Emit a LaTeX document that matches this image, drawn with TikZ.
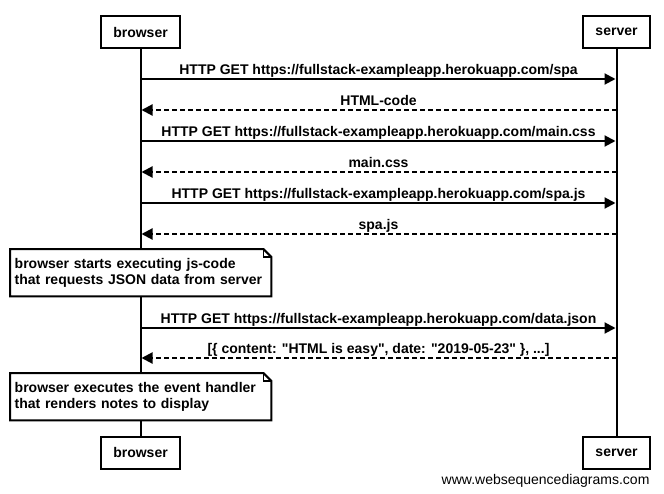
\documentclass[tikz,border=0pt]{standalone}
\usepackage{fontspec}
\setmainfont{Liberation Sans}
\usetikzlibrary{arrows.meta,positioning,calc}

% outline of a note with a folded top right corner
\newcommand{\foldnote}[1]{%
  \draw[notebox] (#1.north west) -- ([xshift=-8pt]#1.north east)
    -- ([yshift=-8pt]#1.north east) -- (#1.south east)
    -- (#1.south west) -- cycle;
  \draw[line width=1.2pt] ([xshift=-8pt]#1.north east) |- ([yshift=-8pt]#1.north east);
}

\begin{document}
\begin{tikzpicture}[
  x=1pt, y=-1pt,
  font=\fontsize{14}{15.5}\selectfont\bfseries,
  actor/.style={draw, line width=2pt, fill=white, minimum height=32pt, inner sep=0pt},
  life/.style={line width=2pt},
  call/.style={-{Triangle[length=11pt,width=11pt]}, line width=2pt, shorten >=1pt},
  reply/.style={call, dash pattern=on 5pt off 3pt},
  lbl/.style={above, inner sep=0.5pt, text depth=3pt},
  note/.style={fill=white, minimum height=47pt, text width=252pt, align=left,
               inner xsep=4.5pt, inner ysep=0pt, anchor=north west},
  notebox/.style={line width=2pt}
]
\useasboundingbox (0,0) rectangle (664,493);

\node[actor, minimum width=79pt] (brtop) at (140.5,32) {browser};
\node[actor, minimum width=67pt] (svtop) at (616.5,32) {server};
\node[actor, minimum width=79pt] (brbot) at (140.5,452.5) {browser};
\node[actor, minimum width=67pt] (svbot) at (616.5,452.5) {server};

\draw[life] (brtop) -- (brbot);
\draw[life] (svtop) -- (svbot);

\foreach \i/\y in {1/79,2/110,3/141,4/172,5/203,6/234,7/328,8/358}{
  \coordinate (b\i) at (brtop.center |- 0,\y);
  \coordinate (s\i) at (svtop.center |- 0,\y);
}

\draw[call] (b1) -- node[lbl] {HTTP GET https://fullstack-exampleapp.herokuapp.com/spa} (s1);
\draw[reply] (s2) -- node[lbl] {HTML-code} (b2);
\draw[call] (b3) -- node[lbl] {HTTP GET https://fullstack-exampleapp.herokuapp.com/main.css} (s3);
\draw[reply] (s4) -- node[lbl] {main.css} (b4);
\draw[call] (b5) -- node[lbl] {HTTP GET https://fullstack-exampleapp.herokuapp.com/spa.js} (s5);
\draw[reply] (s6) -- node[lbl] {spa.js} (b6);

\node[note] (note1) at (10,249) {browser starts executing js-code\\that requests JSON data from server};
\foldnote{note1}

\draw[call] (b7) -- node[lbl] {HTTP GET https://fullstack-exampleapp.herokuapp.com/data.json} (s7);
\draw[reply] (s8) -- node[lbl] {[\{ content: \textquotedbl HTML is easy\textquotedbl, date: \textquotedbl 2019-05-23\textquotedbl\ \}, ...]} (b8);

\node[note] (note2) at (10,373) {browser executes the event handler\\that renders notes to display};
\foldnote{note2}

\node[anchor=base east, font=\fontsize{14}{16}\selectfont\mdseries] (site) at (653,484) {www.websequencediagrams.com};
\end{tikzpicture}
\end{document}
